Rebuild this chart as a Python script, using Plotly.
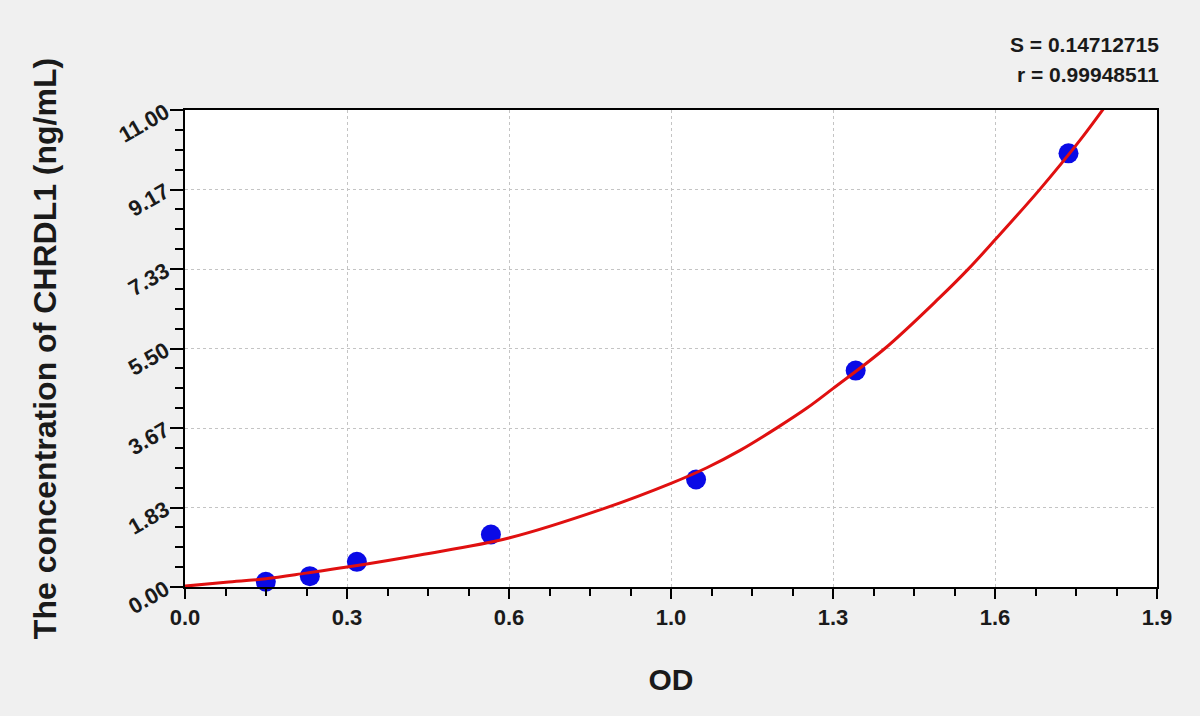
import plotly.graph_objects as go

# standard points (OD vs concentration)
od = [0.158, 0.244, 0.336, 0.598, 0.999, 1.311, 1.727]
conc = [0.12, 0.25, 0.58, 1.21, 2.48, 4.99, 10.0]

# fitted curve
curve_od = [0.0, 0.08, 0.158, 0.237, 0.317, 0.459, 0.633, 0.824,
            0.95, 1.02, 1.085, 1.157, 1.215, 1.267, 1.368, 1.474, 1.531, 1.583,
            1.671, 1.75, 1.801]
curve_conc = [0.02, 0.11, 0.19, 0.32, 0.46, 0.74, 1.13, 1.83,
              2.39, 2.75, 3.15, 3.67, 4.12, 4.58, 5.50, 6.66, 7.33, 8.00,
              9.17, 10.31, 11.12]

x_ticks = [0, 0.31667, 0.63333, 0.95, 1.26667, 1.58333, 1.9]
x_labels = ['0.0', '0.3', '0.6', '1.0', '1.3', '1.6', '1.9']
y_ticks = [0, 1.83333, 3.66667, 5.5, 7.33333, 9.16667, 11.0]
y_labels = ['0.00', '1.83', '3.67', '5.50', '7.33', '9.17', '11.00']

stats = ['S = 0.14712715', 'r = 0.99948511']

font = 'Arial, Liberation Sans, sans-serif'
ink = '#1a1a1a'

fig = go.Figure()
fig.add_trace(go.Scatter(x=od, y=conc, mode='markers',
                         marker=dict(color='#0a0ae6', size=20, line=dict(width=0)),
                         cliponaxis=False, showlegend=False))
fig.add_trace(go.Scatter(x=curve_od, y=curve_conc, mode='lines', line_shape='spline',
                         line=dict(color='#e01010', width=3), showlegend=False))

axis_common = dict(showline=True, linecolor='black', linewidth=2, mirror=True,
                   ticks='outside', tickwidth=2, tickcolor='black',
                   showgrid=True, gridcolor='#c4c4c4', griddash='dot', gridwidth=1,
                   zeroline=False,
                   tickfont=dict(family=font, size=22, color=ink, weight='bold'))

fig.update_xaxes(range=[0, 1.9], tickmode='array', tickvals=x_ticks, ticktext=x_labels,
                 ticklen=10,
                 minor=dict(tickmode='linear', tick0=0, dtick=1.9 / 24, ticks='outside',
                            ticklen=7, tickwidth=2, tickcolor='black', showgrid=False),
                 title=dict(text='<b>OD</b>', font=dict(family=font, size=30, color=ink),
                            standoff=40),
                 **axis_common)
fig.update_yaxes(range=[0, 11], tickmode='array', tickvals=y_ticks, ticktext=y_labels,
                 ticklen=13, tickangle=-30,
                 minor=dict(tickmode='linear', tick0=0, dtick=11 / 24, ticks='outside',
                            ticklen=8, tickwidth=2, tickcolor='black', showgrid=False),
                 title=dict(text='<b>The concentration of CHRDL1 (ng/mL)</b>',
                            font=dict(family=font, size=32, color=ink), standoff=48),
                 **axis_common)

for i, s in enumerate(stats):
    fig.add_annotation(text='<b>' + s + '</b>', xref='paper', yref='paper',
                       x=1.0, y=1.0, xanchor='right', yanchor='middle',
                       xshift=4, yshift=66 - i * 30, showarrow=False,
                       font=dict(family=font, size=21, color=ink))

fig.update_layout(width=1200, height=716, paper_bgcolor='#f0f0f0', plot_bgcolor='white',
                  margin=dict(l=185, r=43, t=110, b=129), showlegend=False)

fig.write_html("out.html", config={'displayModeBar': False},
               post_script="document.body.style.margin='0';")
